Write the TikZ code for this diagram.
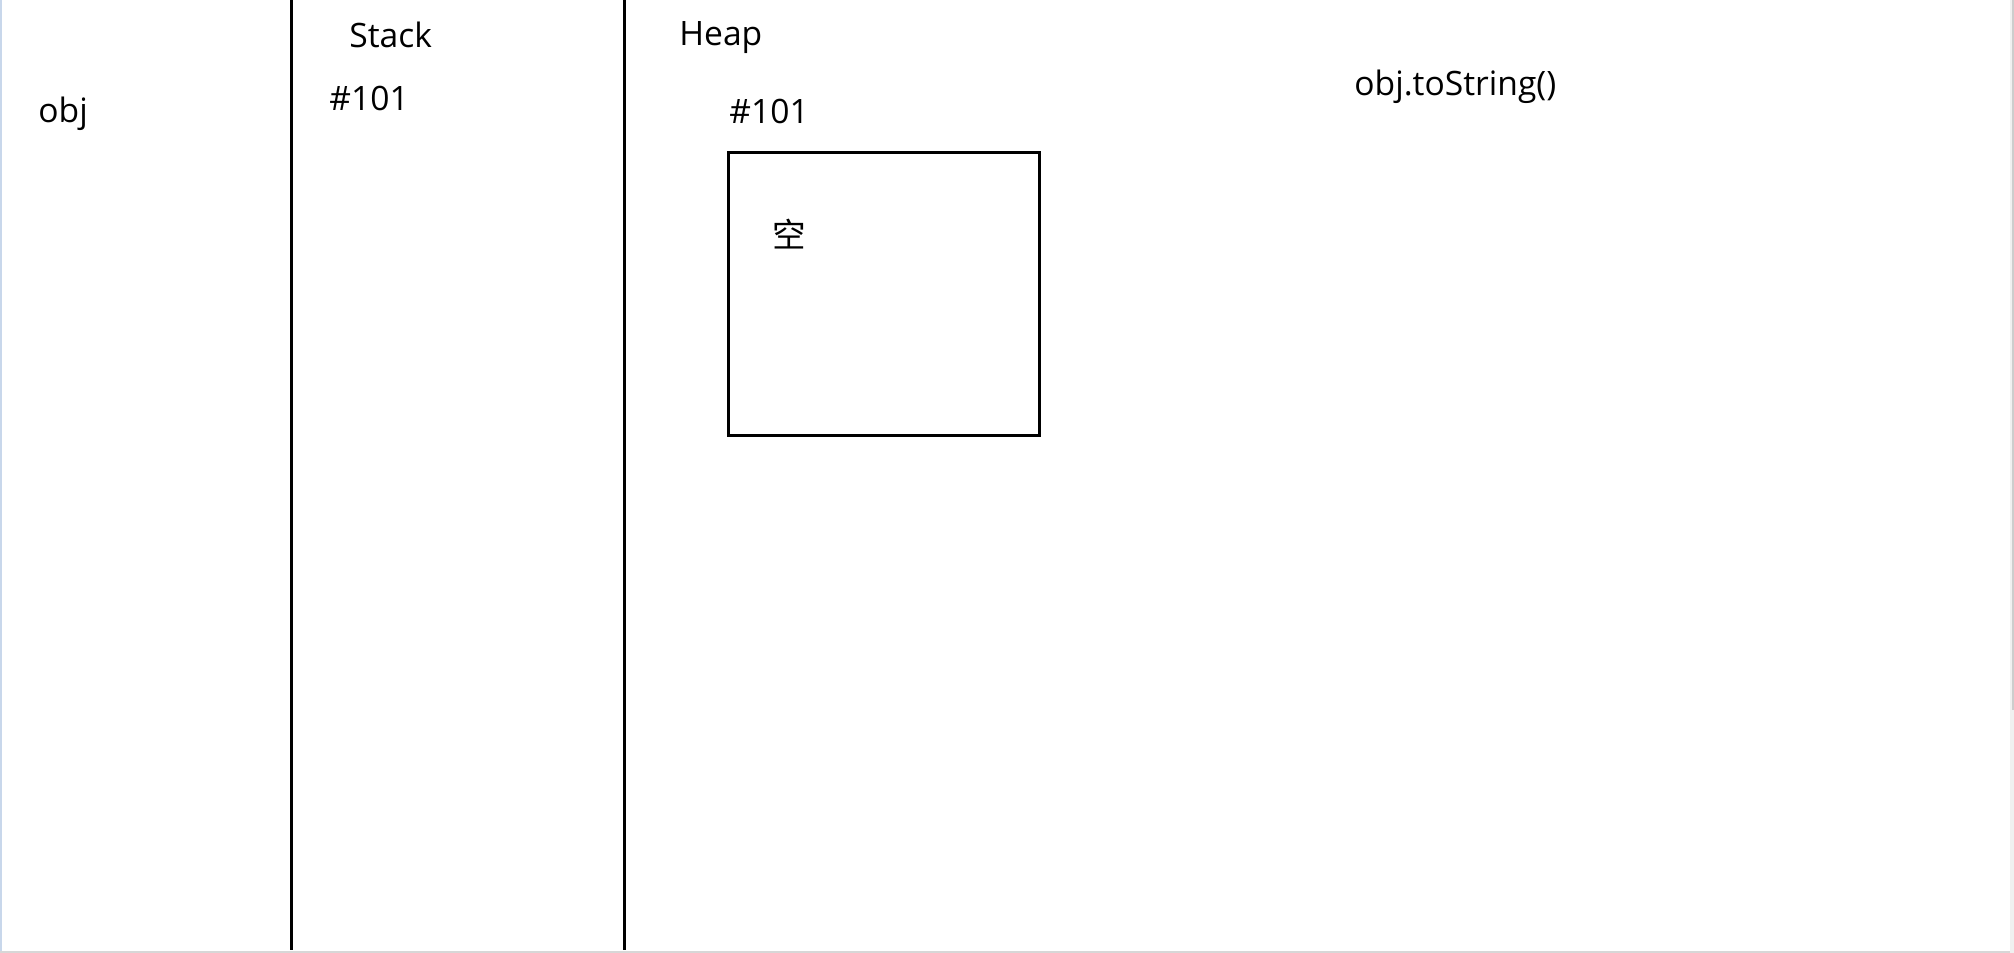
\documentclass[tikz,border=0pt]{standalone}
\usepackage{fontspec}
\setmainfont{Open Sans}
\newfontfamily\cjk{Noto Sans CJK SC}
\begin{document}
\begin{tikzpicture}[x=0.5pt,y=-0.5pt,
  lbl/.style={anchor=base west,inner sep=0pt,font=\fontsize{16.8pt}{20pt}\selectfont},
  divider/.style={line width=1.5pt,black},
  objbox/.style={draw,line width=1.4pt,minimum width=155.5pt,minimum height=141.5pt,inner sep=0pt,anchor=north west}]
\useasboundingbox (0,0) rectangle (2014,953);
\fill[white] (0,0) rectangle (2014,953);
% window edges
\draw[color={rgb,255:red,200;green,215;blue,235},line width=1pt] (0.5,0) -- (0.5,951);
\draw[color={rgb,255:red,215;green,215;blue,215},line width=1pt] (0,952) -- (2014,952);
\fill[color={rgb,255:red,240;green,240;blue,240}] (2010,0) rectangle (2014,953);
\fill[color={rgb,255:red,205;green,205;blue,205}] (2012,0) rectangle (2014,710);
% dividers
\coordinate (d1t) at (291,0); \coordinate (d1b) at (291,950);
\coordinate (d2t) at (624,0); \coordinate (d2b) at (624,950);
\draw[divider] (d1t) -- (d1b);
\draw[divider] (d2t) -- (d2b);
% labels
\node[lbl] (obj) at (38,122) {obj};
\node[lbl] (stack) at (349,47) {Stack};
\node[lbl] (saddr) at (329,110) {\#101};
\node[lbl] (heap) at (679,46) {Heap};
\node[lbl] (haddr) at (729,123) {\#101};
\node[lbl] (call) at (1354,95) {obj.toString()};
% object box
\node[objbox] (box) at (727,151) {};
\node[inner sep=0pt,font=\cjk\fontsize{16.8pt}{20pt}\selectfont] (empty) at (789,234) {空};
\end{tikzpicture}
\end{document}
